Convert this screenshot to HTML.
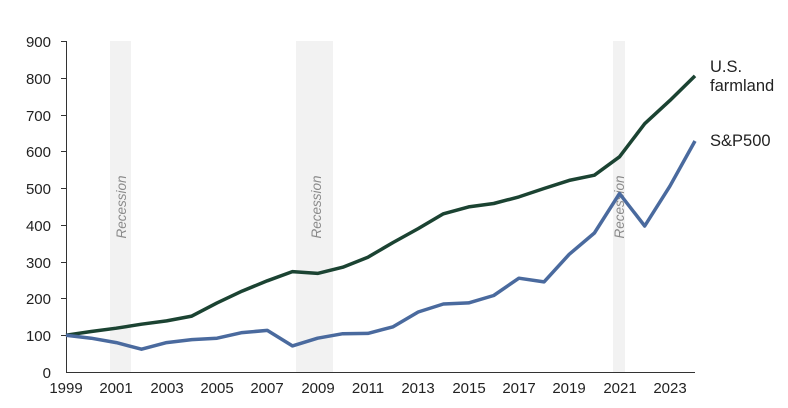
<!DOCTYPE html>
<html><head><meta charset="utf-8"><style>
body{margin:0;background:#fff;}
svg{display:block;font-family:"Liberation Sans",sans-serif;}
</style></head><body>
<svg width="788" height="408" viewBox="0 0 788 408">
<rect x="110" y="41" width="21" height="331" fill="#f2f2f2"/>
<rect x="296" y="41" width="37" height="331" fill="#f2f2f2"/>
<rect x="613" y="41" width="12" height="331" fill="#f2f2f2"/>
<g font-size="13.5" font-style="italic" fill="#8a8a8a" text-anchor="middle">
<text transform="translate(126,207) rotate(-90)">Recession</text>
<text transform="translate(321,207) rotate(-90)">Recession</text>
<text transform="translate(624,207) rotate(-90)">Recession</text>
</g>
<g stroke="#333" stroke-width="1" fill="none">
<line x1="66.5" y1="41" x2="66.5" y2="372.5"/>
<line x1="66" y1="372.5" x2="695" y2="372.5"/>
<line x1="61" y1="41.5" x2="66" y2="41.5"/>
<line x1="61" y1="78.5" x2="66" y2="78.5"/>
<line x1="61" y1="115.5" x2="66" y2="115.5"/>
<line x1="61" y1="151.5" x2="66" y2="151.5"/>
<line x1="61" y1="188.5" x2="66" y2="188.5"/>
<line x1="61" y1="225.5" x2="66" y2="225.5"/>
<line x1="61" y1="262.5" x2="66" y2="262.5"/>
<line x1="61" y1="298.5" x2="66" y2="298.5"/>
<line x1="61" y1="335.5" x2="66" y2="335.5"/>
</g>
<g font-size="15" fill="#222" text-anchor="end">
<text x="51" y="47">900</text><text x="51" y="84">800</text><text x="51" y="121">700</text>
<text x="51" y="157">600</text><text x="51" y="194">500</text><text x="51" y="231">400</text>
<text x="51" y="268">300</text><text x="51" y="304">200</text><text x="51" y="341">100</text>
<text x="51" y="378">0</text>
</g>
<g font-size="15" fill="#222" text-anchor="middle">
<text x="66" y="393">1999</text><text x="116" y="393">2001</text><text x="167" y="393">2003</text>
<text x="217" y="393">2005</text><text x="267" y="393">2007</text><text x="318" y="393">2009</text>
<text x="368" y="393">2011</text><text x="418" y="393">2013</text><text x="469" y="393">2015</text>
<text x="519" y="393">2017</text><text x="569" y="393">2019</text><text x="620" y="393">2021</text>
<text x="670" y="393">2023</text>
</g>
<polyline fill="none" stroke="#1b4332" stroke-width="3.5" stroke-linejoin="round" points="66,335.2 91.2,331.5 116.3,328.2 141.5,324.2 166.6,320.9 191.8,316.1 217,302.9 242.1,291.1 267.3,280.8 292.4,271.6 317.6,273.4 342.8,267.2 367.9,257.2 393.1,242.5 418.2,228.6 443.4,213.8 468.6,206.9 493.7,203.5 518.9,196.9 544,188.5 569.2,180.4 594.4,175.2 619.5,156.8 644.7,123.7 669.8,100.6 695,75.9"/>
<polyline fill="none" stroke="#4a6a9e" stroke-width="3.5" stroke-linejoin="round" points="66,335.2 91.2,338.2 116.3,342.6 141.5,349.2 166.6,342.6 191.8,339.6 217,338.2 242.1,332.6 267.3,330.4 292.4,345.9 317.6,338.2 342.8,333.7 367.9,333.4 393.1,326.8 418.2,312 443.4,304 468.6,302.9 493.7,295.5 518.9,278.2 544,281.9 569.2,254.3 594.4,233 619.5,193.6 644.7,226 669.8,186.3 695,141"/>
<g font-size="16.5" fill="#222">
<text x="710" y="72">U.S.</text>
<text x="710" y="91">farmland</text>
<text x="710" y="146">S&amp;P500</text>
</g>
</svg>
</body></html>
